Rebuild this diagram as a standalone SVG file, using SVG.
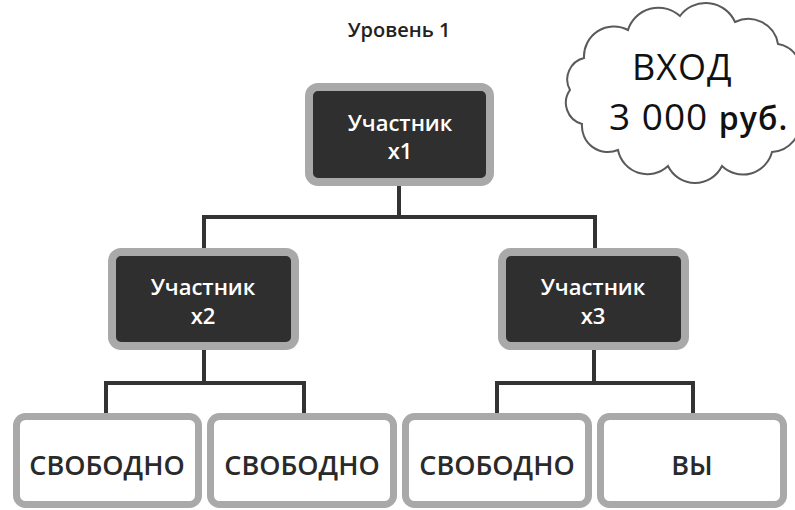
<svg xmlns="http://www.w3.org/2000/svg" width="795" height="510" viewBox="0 0 795 510">
<style>
.dark rect{fill:#2f2f2f;stroke:#a9a9a9;stroke-width:8}
.light rect{fill:#fff;stroke:#a9a9a9;stroke-width:7}
.wt{font-family:"Open Sans","Noto Sans",sans-serif;font-weight:600;font-size:22px;fill:#fff;text-anchor:middle}
.bt{font-family:"Open Sans","Noto Sans",sans-serif;font-weight:600;font-size:27px;fill:#2a2a2a;text-anchor:middle}
.conn path{fill:none;stroke:#333;stroke-width:4}
</style>
<rect width="795" height="510" fill="#fff"/>
<text x="399" y="37" font-family="Open Sans, Noto Sans, sans-serif" font-size="20" font-weight="600" fill="#222" text-anchor="middle">Уровень 1</text>
<g id="cloud">
<path d="M584,58 A30,30 0 0 1 628,30 A32,32 0 0 1 680,16 A32,32 0 0 1 735,22 A30,30 0 0 1 778,44 A28,28 0 0 1 800,80 L800,118 A30,30 0 0 1 772,152 A30,30 0 0 1 722,166 A30,30 0 0 1 668,166 A30,30 0 0 1 618,150 A26,26 0 0 1 582,124 A22,22 0 0 1 570,90 A22,22 0 0 1 584,58 Z" fill="#fff" stroke="#5a5a5a" stroke-width="2"/>
<text x="632" y="80" font-family="Open Sans, Noto Sans, sans-serif" font-size="36" letter-spacing="1" fill="#111">ВХОД</text>
<text x="609" y="130" font-family="Open Sans, Noto Sans, sans-serif" font-size="37" letter-spacing="1" fill="#111">3 000 <tspan font-size="32" font-weight="600">руб.</tspan></text>
</g>
<g id="connectors" class="conn">
<path d="M399,186 V217 M204,251 V217 H595 V251"/>
<path d="M204,350 V383 M106,416 V383 H304 V416"/>
<path d="M594,350 V383 M497,416 V383 H693 V416"/>
</g>
<g id="n1" class="dark"><rect x="309" y="87" width="181" height="95" rx="9"/><text class="wt" x="400" y="131">Участник</text><text class="wt" x="400" y="159">x1</text></g>
<g id="n2" class="dark"><rect x="112" y="252" width="183" height="94" rx="9"/><text class="wt" x="203" y="295">Участник</text><text class="wt" x="203" y="324">x2</text></g>
<g id="n3" class="dark"><rect x="502" y="252" width="183" height="94" rx="9"/><text class="wt" x="593" y="295">Участник</text><text class="wt" x="593" y="324">x3</text></g>
<g id="b1" class="light"><rect x="16.5" y="416.5" width="182" height="88" rx="9"/><text class="bt" x="107" y="475">СВОБОДНО</text></g>
<g id="b2" class="light"><rect x="210.5" y="416.5" width="183" height="88" rx="9"/><text class="bt" x="302" y="475">СВОБОДНО</text></g>
<g id="b3" class="light"><rect x="405.5" y="416.5" width="183" height="88" rx="9"/><text class="bt" x="497" y="475">СВОБОДНО</text></g>
<g id="b4" class="light"><rect x="600.5" y="416.5" width="183" height="88" rx="9"/><text class="bt" x="692" y="475">ВЫ</text></g>
</svg>
